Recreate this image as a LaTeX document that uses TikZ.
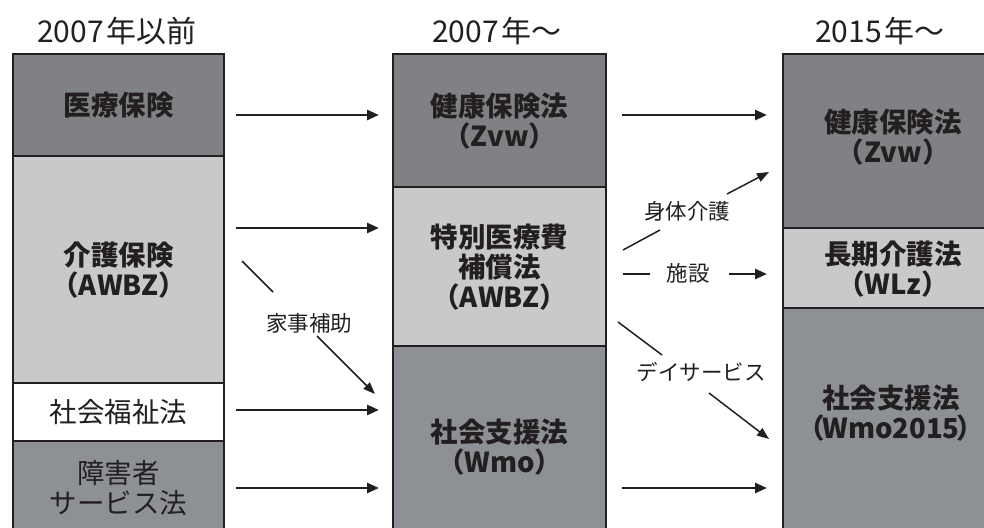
\documentclass[tikz,border=0pt]{standalone}
\usepackage{fontspec}
\setmainfont{Noto Sans CJK JP}
\usetikzlibrary{arrows.meta}
\definecolor{ink}{HTML}{231F20}
\definecolor{darkA}{HTML}{808184}
\definecolor{darkB}{HTML}{8D9095}
\definecolor{lightG}{HTML}{C8C9CB}
\begin{document}
\begin{tikzpicture}[x=1pt,y=-1pt,
  box/.style={draw=ink, line width=2.4pt, anchor=north west, inner sep=0pt, align=center,
    font=\bfseries\fontsize{27.5}{30}\selectfont, text=ink},
  rbox/.style={box, font=\fontsize{27.5}{30}\selectfont},
  btext/.style={align=center, font=\bfseries\fontsize{27.5}{30}\selectfont, text=ink, inner sep=0pt},
  hdr/.style={font=\fontsize{30}{34}\selectfont, text=ink, inner sep=0pt},
  lbl/.style={font=\fontsize{21.5}{24}\selectfont, text=ink, inner sep=0pt},
  harr/.style={draw=ink, line width=2.6pt, -{Triangle[length=12pt,width=10pt]}},
  darr/.style={draw=ink, line width=1.5pt, -{Triangle[length=12pt,width=9pt]}},
  dseg/.style={draw=ink, line width=1.5pt}]
\clip (0,0) rectangle (984,527);
\fill[white] (0,0) rectangle (984,527);

% headers
\node[hdr] (h1) at (117,31) {2007\kern3pt 年以前};
\node[hdr] (h2) at (497,31) {2007\kern3pt 年～};
\node[hdr] (h3) at (880,31) {2015\kern3pt 年～};

% column 1
\node[box, fill=darkA, minimum width=211pt, minimum height=102pt] (a1) at (12,53) {医療保険};
\node[box, fill=lightG, minimum width=211pt, minimum height=227pt] (a2) at (12,155) {介護保険\\（AWBZ）};
\node[rbox, fill=white, minimum width=211pt, minimum height=58pt] (a3) at (12,382) {社会福祉法};
\node[rbox, fill=darkB, minimum width=211pt, minimum height=94pt] (a4) at (12,440) {障害者\\サービス法};

% column 2
\node[box, fill=darkA, minimum width=213pt, minimum height=133pt] (b1) at (392,53) {健康保険法\\（Zvw）};
\node[box, fill=lightG, minimum width=213pt, minimum height=159pt] (b2) at (392,186) {特別医療費\\補償法\\（AWBZ）};
\node[box, fill=darkB, minimum width=213pt, minimum height=202pt] (b3) at (392,345) {社会支援法\\（Wmo）};

% column 3
\node[box, fill=darkA, minimum width=224pt, minimum height=174pt] (c1) at (782,53) {};
\node[box, fill=lightG, minimum width=224pt, minimum height=80pt] (c2) at (782,227) {};
\node[box, fill=darkB, minimum width=224pt, minimum height=250pt] (c3) at (782,307) {};
\node[btext] (t1) at (893,137) {健康保険法\\（Zvw）};
\node[btext] (t2) at (893,269) {長期介護法\\（WLz）};
\node[btext] (t3) at (891,413) {社会支援法\\（\kern-3pt Wmo2015\kern-3pt）};

% labels
\node[lbl] (l1) at (309,323) {家事補助};
\node[lbl] (l2) at (687,211) {身体介護};
\node[lbl] (l3) at (688,273) {施設};
\node[lbl] (l4) at (701,372) {デイサービス};

% coordinates for arrows
\coordinate (p1s) at (236,115); \coordinate (p1e) at (379,115);
\coordinate (p2s) at (236,228); \coordinate (p2e) at (379,228);
\coordinate (p3s) at (236,410); \coordinate (p3e) at (379,410);
\coordinate (p4s) at (236,488); \coordinate (p4e) at (379,488);
\coordinate (q1s) at (622,115); \coordinate (q1e) at (767,115);
\coordinate (q4s) at (622,488); \coordinate (q4e) at (767,488);
\coordinate (k1) at (242,261); \coordinate (k2) at (273,292);
\coordinate (k3) at (317,336); \coordinate (k4) at (375,394);
\coordinate (s1) at (623,250); \coordinate (s2) at (660,230);
\coordinate (s3) at (727,194); \coordinate (s4) at (769,172);
\coordinate (f1) at (623,274); \coordinate (f2) at (650,274);
\coordinate (f3) at (729,274); \coordinate (f4) at (767,274);
\coordinate (d1) at (618,322); \coordinate (d2) at (662,355);
\coordinate (d3) at (709,393); \coordinate (d4) at (769,439);

\draw[harr] (p1s) -- (p1e);
\draw[harr] (p2s) -- (p2e);
\draw[harr] (p3s) -- (p3e);
\draw[harr] (p4s) -- (p4e);
\draw[harr] (q1s) -- (q1e);
\draw[harr] (q4s) -- (q4e);

\draw[dseg] (k1) -- (k2);
\draw[darr] (k3) -- (k4);
\draw[dseg] (s1) -- (s2);
\draw[darr] (s3) -- (s4);
\draw[dseg, line width=2.6pt] (f1) -- (f2);
\draw[harr] (f3) -- (f4);
\draw[dseg] (d1) -- (d2);
\draw[darr] (d3) -- (d4);
\end{tikzpicture}
\end{document}
